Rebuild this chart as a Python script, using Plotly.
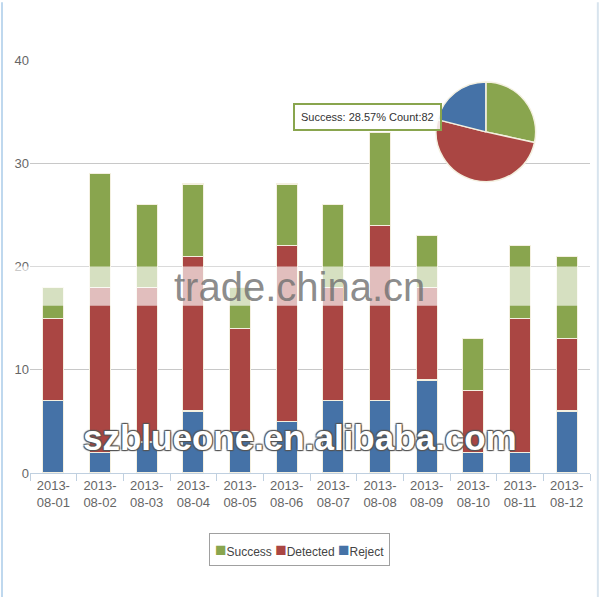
import plotly.graph_objects as go

dates = ["2013-08-01", "2013-08-02", "2013-08-03", "2013-08-04", "2013-08-05", "2013-08-06",
         "2013-08-07", "2013-08-08", "2013-08-09", "2013-08-10", "2013-08-11", "2013-08-12"]
tick_labels = [d[:5] + "<br>" + d[5:] for d in dates]

reject = [7, 2, 3, 6, 4, 5, 7, 7, 9, 2, 2, 6]
detected = [8, 16, 15, 15, 10, 17, 11, 17, 9, 6, 13, 7]
success = [3, 11, 8, 7, 4, 6, 8, 9, 5, 5, 7, 8]

pie_labels = ["Success", "Detected", "Reject"]
tooltip_text = "Success: 28.57% Count:82"

GREEN = "#89A54E"
RED = "#AA4643"
BLUE = "#4572A7"
FONT = "Liberation Sans, Arial, sans-serif"

fig = go.Figure()
series = [("Reject", reject, BLUE), ("Detected", detected, RED), ("Success", success, GREEN)]
for name, vals, col in series:
    fig.add_trace(go.Bar(
        x=tick_labels, y=vals, name=name, showlegend=False,
        marker=dict(color=col, line=dict(color="#F4F0E0", width=1.2)),
    ))

fig.add_trace(go.Pie(
    labels=pie_labels,
    values=[sum(success), sum(detected), sum(reject)],
    marker=dict(colors=[GREEN, RED, BLUE], line=dict(color="#F4F0E0", width=1.5)),
    sort=False, direction="clockwise", rotation=0,
    textinfo="none", showlegend=False,
    domain=dict(x=[0.725, 0.903], y=[0.705, 0.947]),
))

legend_html = " ".join(
    f"<span style='color:{c};font-size:19px'>■</span>{n}" for n, _, c in reversed(series)
)

fig.update_layout(
    width=600, height=600,
    margin=dict(l=30, r=10, t=60, b=127),
    paper_bgcolor="white", plot_bgcolor="white",
    barmode="stack", bargap=0.55,
    font=dict(family=FONT, size=12, color="#666666"),
    showlegend=False,
    xaxis=dict(
        type="category", tickson="boundaries", ticks="outside", ticklen=7,
        tickcolor="#C0D0E0", showline=True, linecolor="#C0D0E0", linewidth=1,
        showgrid=False, tickfont=dict(size=13, color="#666666"),
    ),
    yaxis=dict(
        range=[0, 40], dtick=10, showgrid=True, gridcolor="#C8C8C8", gridwidth=1,
        zeroline=False, showline=False, ticks="", tickfont=dict(size=13, color="#666666"),
    ),
    annotations=[
        dict(
            xref="paper", yref="paper", x=0.735, y=0.897,
            text=tooltip_text, showarrow=False,
            font=dict(family=FONT, size=11, color="#333333"),
            bgcolor="rgba(255,255,255,0.85)", bordercolor=GREEN, borderwidth=2, borderpad=6,
        ),
        dict(
            xref="paper", yref="paper", x=0.482, y=0.45,
            text="trade.china.cn", showarrow=False,
            font=dict(family=FONT, size=40, color="rgba(110,110,110,0.8)"),
        ),
        dict(
            xref="paper", yref="paper", x=0.482, y=0.035,
            text="<b>szblueone.en.alibaba.com</b>", showarrow=False,
            font=dict(family=FONT, size=35, color="white",
                      shadow="1px 1px 1px #555, -1px -1px 1px #555, 1px -1px 1px #555, -1px 1px 1px #555"),
        ),
        dict(
            xref="paper", yref="paper", x=0.482, y=-0.226,
            text=legend_html, showarrow=False,
            font=dict(family=FONT, size=12, color="#444444"),
            bgcolor="white", bordercolor="#A0A0A0", borderwidth=1, borderpad=5,
        ),
    ],
    shapes=[
        dict(type="rect", xref="paper", yref="paper", x0=-0.06, x1=1.02, y0=0.405, y1=0.5,
             fillcolor="rgba(255,255,255,0.65)", line=dict(width=0), layer="above"),
        dict(type="line", xref="paper", yref="paper", x0=-0.05, x1=-0.05, y0=-0.3, y1=1.14,
             line=dict(color="#BFD8EE", width=2)),
        dict(type="line", xref="paper", yref="paper", x0=1.014, x1=1.014, y0=-0.3, y1=1.14,
             line=dict(color="#D8E4EE", width=2)),
    ],
)

fig.write_html("out.html")
